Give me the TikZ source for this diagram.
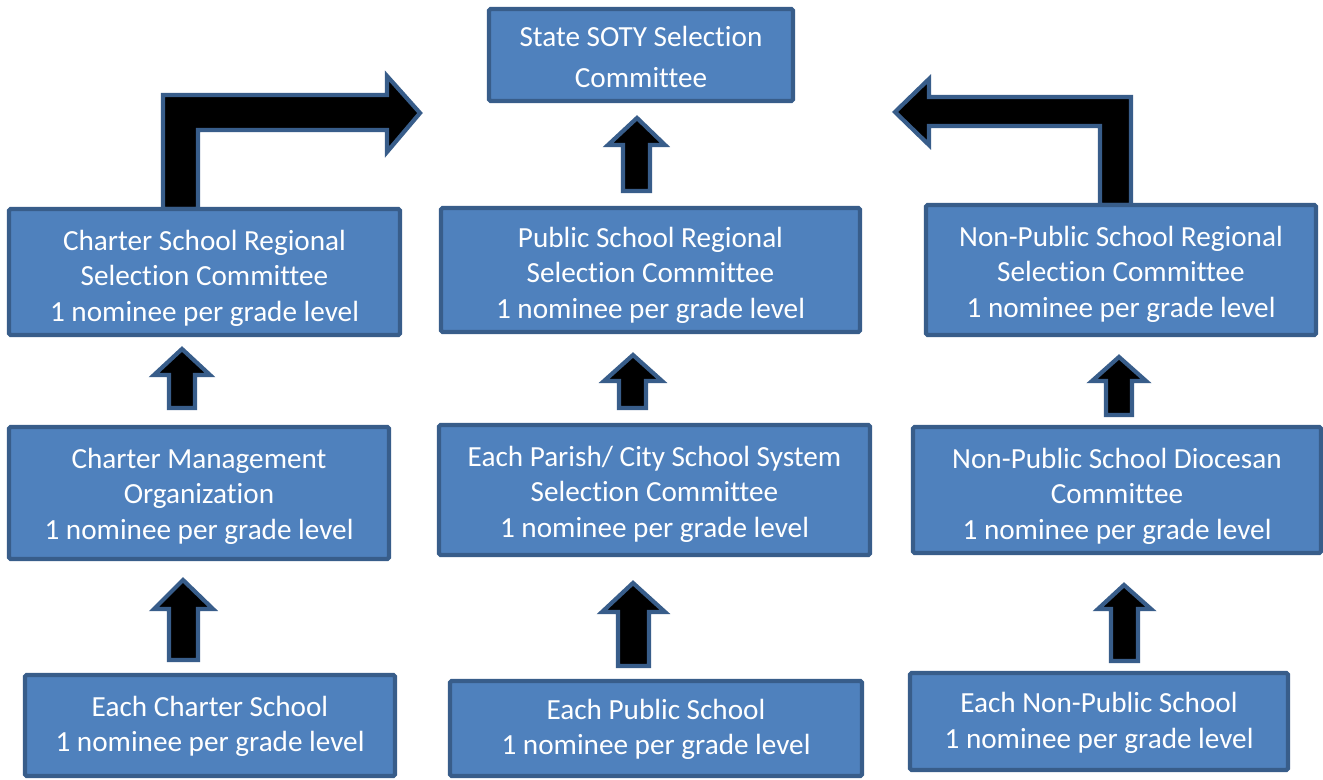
\documentclass[tikz,border=0pt]{standalone}
\usepackage{fontspec}
\setmainfont{Carlito}[Ligatures=NoCommon]
\definecolor{boxfill}{HTML}{4F81BD}
\definecolor{boxline}{HTML}{385D8A}
\begin{document}
\begin{tikzpicture}[x=0.5pt,y=-0.5pt,
  stagebox/.style={draw=boxline, fill=boxfill, line width=2.1pt,
    inner sep=0pt, rounded corners=0.8pt},
  boxtext/.style={text=white, align=center, inner sep=0pt,
    font=\fontsize{14.6}{17.75}\selectfont},
  blockarrow/.style={draw=boxline, fill=black, line width=2.1pt, line join=miter}]
\useasboundingbox (0,0) rectangle (1323,780);
\fill[white] (0,0) rectangle (1323,780);

% block arrows (drawn first so the boxes sit on top)
\newcommand\blockup[8]{%
  \draw[blockarrow] (#6,#8) -- (#6,#5) -- (#3,#5) -- (#1,#2) -- (#4,#5)
    -- (#7,#5) -- (#7,#8) -- cycle;}
% cx, tip, headL, headR, base, shaftL, shaftR, bottom
\blockup{637}{118}{608}{665}{145}{623}{650}{191}
\blockup{633}{355}{604}{662}{381}{619}{646}{408}
\blockup{633}{583}{602}{665}{612}{618}{649}{666}
\blockup{183}{580}{154}{213}{609}{169}{198}{660}
\blockup{182}{349}{154}{210}{375}{169}{195}{408}
\blockup{1119}{357}{1092}{1146}{381}{1106}{1132}{415}
\blockup{1124}{585}{1098}{1151}{609}{1111}{1138}{661}

% bent arrows
\draw[blockarrow] (163,209) -- (163,95) -- (387,95) -- (387,76) -- (420,113)
  -- (387,152) -- (387,130) -- (198,130) -- (198,209) -- cycle;
\draw[blockarrow] (1131,205) -- (1131,97) -- (929,97) -- (929,79) -- (895,112)
  -- (929,145) -- (929,126) -- (1100,126) -- (1100,205) -- cycle;

% boxes
\node[stagebox, minimum width=152pt, minimum height=46pt,
  label={[boxtext, font=\fontsize{14.6}{20.5}\selectfont, yshift=-1.2pt]center:{State SOTY Selection\\Committee}}]
  (soty) at (641,55) {};
\node[stagebox, minimum width=195.5pt, minimum height=63pt,
  label={[boxtext, yshift=-3pt]center:{Charter School Regional\\Selection Committee\\1 nominee per grade level}}]
  (creg) at (204.5,272) {};
\node[stagebox, minimum width=209.5pt, minimum height=62pt,
  label={[boxtext, yshift=-2.5pt]center:{Public School Regional\\Selection Committee\\1 nominee per grade level}}]
  (preg) at (650.5,270) {};
\node[stagebox, minimum width=195pt, minimum height=65pt,
  label={[boxtext, yshift=-2pt]center:{Non-Public School Regional\\Selection Committee\\1 nominee per grade level}}]
  (nreg) at (1121,270) {};
\node[stagebox, minimum width=190pt, minimum height=66pt,
  label={[boxtext, yshift=-1.5pt]center:{Charter Management\\Organization\\1 nominee per grade level}}]
  (cmo) at (199,493) {};
\node[stagebox, minimum width=215.5pt, minimum height=65pt,
  label={[boxtext, yshift=-2pt]center:{Each Parish/ City School System\\Selection Committee\\1 nominee per grade level}}]
  (parish) at (654.5,490) {};
\node[stagebox, minimum width=204pt, minimum height=63pt,
  label={[boxtext, yshift=-3pt]center:{Non-Public School Diocesan\\Committee\\1 nominee per grade level}}]
  (dio) at (1117,490) {};
\node[stagebox, minimum width=185pt, minimum height=50.5pt,
  label={[boxtext, yshift=-0.5pt]center:{Each Charter School\\1 nominee per grade level}}]
  (ech) at (210,725.5) {};
\node[stagebox, minimum width=206pt, minimum height=47.5pt,
  label={[boxtext, yshift=-0.5pt]center:{Each Public School\\1 nominee per grade level}}]
  (epub) at (656,728.5) {};
\node[stagebox, minimum width=189pt, minimum height=48.5pt,
  label={[boxtext, yshift=-0.7pt]center:{Each Non-Public School\\1 nominee per grade level}}]
  (enp) at (1099,721.5) {};
\end{tikzpicture}
\end{document}
